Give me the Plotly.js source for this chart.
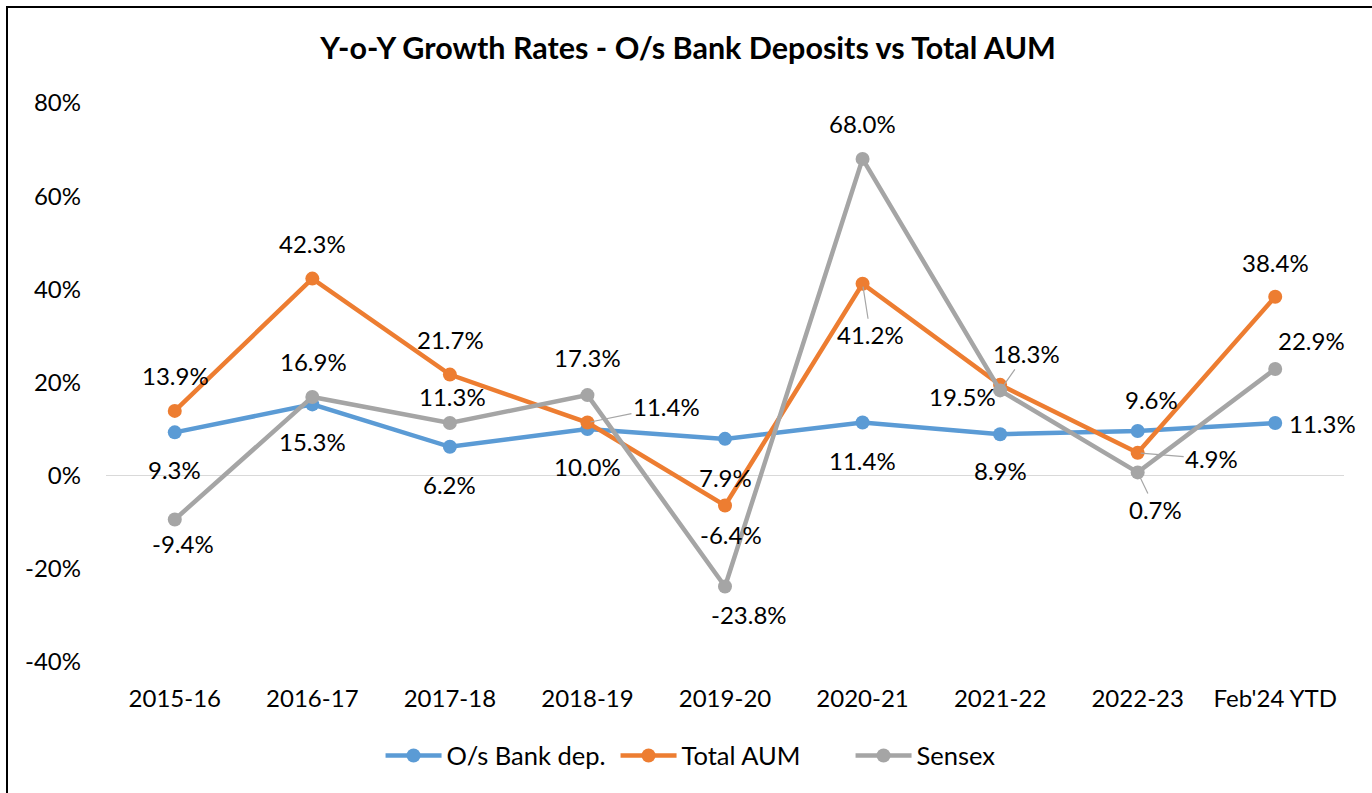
<!DOCTYPE html>
<html>
<head>
<meta charset="utf-8">
<script src="https://cdn.plot.ly/plotly-3.0.1.min.js"></script>
<style>
  html, body { margin: 0; padding: 0; background: #fff; }
  #wrap { position: relative; width: 1372px; height: 793px; overflow: hidden; }
  #chart { position: absolute; left: 0; top: 0; width: 1372px; height: 793px; }
  #frame { position: absolute; left: 6px; top: 6px; width: 1380px; height: 800px;
           border-left: 2px solid #000; border-top: 2px solid #000; pointer-events: none; }
</style>
</head>
<body>
<div id="wrap">
  <div id="chart"></div>
  <div id="frame"></div>
</div>
<script>
// ---- data ----
const categories = ['2015-16', '2016-17', '2017-18', '2018-19', '2019-20', '2020-21', '2021-22', '2022-23', "Feb'24 YTD"];
const bankDep  = [9.3, 15.3, 6.2, 10.0, 7.9, 11.4, 8.9, 9.6, 11.3];
const totalAUM = [13.9, 42.3, 21.7, 11.4, -6.4, 41.2, 19.5, 4.9, 38.4];
const sensex   = [-9.4, 16.9, 11.3, 17.3, -23.8, 68.0, 18.3, 0.7, 22.9];
const seriesNames = ['O/s Bank dep.', 'Total AUM', 'Sensex'];
const yTickVals = [-40, -20, 0, 20, 40, 60, 80];
const yTickText = ['-40%', '-20%', '0%', '20%', '40%', '60%', '80%'];

// ---- label placement (pixel offsets from point: dx, dy(down), leader line) ----
const bankLabelPos  = [[0,37],[0,37],[0,38],[0,37],[0,39],[0,38],[0,36],[14,-31],[47,0]];
const aumLabelPos   = [[1,-35],[0,-35],[1,-35],[79,-16,1],[6,29],[8,51,1],[-38,12],[74,6,1],[0,-34]];
const sensexLabelPos= [[8,24],[1,-35],[3,-27],[0,-38],[24,28],[0,-35],[26,-37,1],[18,37,1],[36,-28]];

const colors = ['#5B9BD5', '#ED7D31', '#A5A5A5'];
const FONT = 'Lato, Carlito, Calibri, "Open Sans", sans-serif';

const seriesVals = [bankDep, totalAUM, sensex];
const seriesPos = [bankLabelPos, aumLabelPos, sensexLabelPos];

const traces = seriesVals.map((vals, s) => ({
  type: 'scatter',
  mode: 'lines+markers',
  name: seriesNames[s],
  x: categories,
  y: vals,
  line: { color: colors[s], width: 4.5 },
  marker: { color: colors[s], size: 14 },
  hoverinfo: 'skip'
}));

const annotations = [];
seriesVals.forEach((vals, s) => {
  vals.forEach((v, i) => {
    const p = seriesPos[s][i];
    const base = {
      xref: 'x', yref: 'y', x: categories[i], y: v,
      text: v.toFixed(1) + '%',
      font: { family: FONT, size: 24, color: '#000' },
      xanchor: 'center', yanchor: 'middle'
    };
    if (p[2]) {
      Object.assign(base, {
        showarrow: true, ax: p[0], ay: p[1],
        arrowhead: 0, arrowwidth: 1.2, arrowcolor: '#A6A6A6', standoff: 3
      });
    } else {
      Object.assign(base, { showarrow: false, xshift: p[0], yshift: -p[1] });
    }
    annotations.push(base);
  });
});

const layout = {
  width: 1372, height: 793, autosize: false,
  margin: { l: 106, r: 28, t: 103, b: 131, pad: 0 },
  paper_bgcolor: '#fff', plot_bgcolor: '#fff',
  font: { family: FONT, size: 24, color: '#000' },
  title: {
    text: '<b>Y-o-Y Growth Rates - O/s Bank Deposits vs Total AUM</b>',
    font: { family: FONT, size: 30.5, color: '#000' },
    xref: 'container', yref: 'container', x: 0.5015, y: 0.9395,
    xanchor: 'center', yanchor: 'middle'
  },
  xaxis: {
    type: 'category', range: [-0.5, 8.5], fixedrange: true,
    showgrid: false, showline: false, zeroline: false, ticks: '',
    tickfont: { family: FONT, size: 24, color: '#000' },
    ticklabelstandoff: 20
  },
  yaxis: {
    range: [-40, 80], fixedrange: true,
    tickvals: yTickVals, ticktext: yTickText,
    showgrid: false, showline: false, ticks: '',
    zeroline: true, zerolinecolor: '#D9D9D9', zerolinewidth: 1.5,
    tickfont: { family: FONT, size: 24, color: '#000' },
    ticklabelstandoff: 24
  },
  showlegend: true,
  legend: {
    orientation: 'h', x: 0.5065, xanchor: 'center', y: -0.168, yanchor: 'middle',
    font: { family: FONT, size: 25.5, color: '#000' },
    bgcolor: 'rgba(0,0,0,0)', itemwidth: 56, entrywidth: 164
  },
  annotations: annotations,
  hovermode: false
};

Plotly.newPlot('chart', traces, layout, { displayModeBar: false, staticPlot: true });
</script>
</body>
</html>
